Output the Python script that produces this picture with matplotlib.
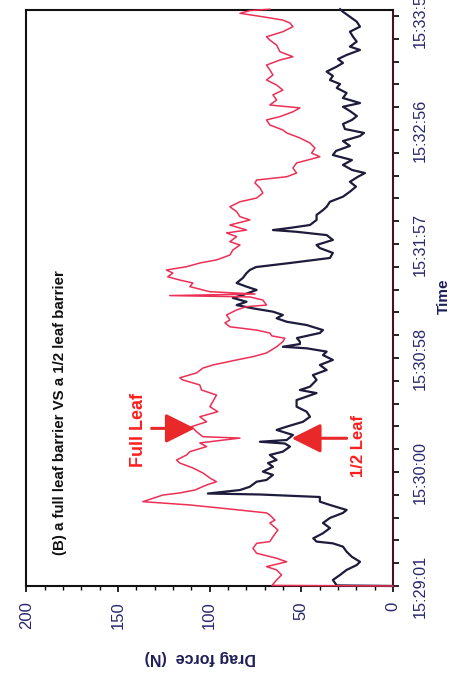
import matplotlib
matplotlib.use("Agg")
import matplotlib.pyplot as plt
from matplotlib.ticker import FixedLocator, MultipleLocator
import numpy as np

plt.rcParams['font.family'] = ['Liberation Sans', 'DejaVu Sans']

# Elapsed time (s after 15:29:01) and drag force (N) for the full-leaf barrier
t_full = [0.0, 0.3, 3.1, 5.7, 8.3, 10.0, 12.5, 14.3, 16.9, 19.4, 22.0, 22.9, 25.4, 28.9,
          32.5, 34.0, 36.6, 37.7, 39.7, 41.8, 43.5, 46.9, 48.0, 49.5, 52.1, 53.8,
          55.7, 58.3, 60.9, 63.4, 65.0, 67.6, 69.3, 71.9, 73.8, 76.3, 77.0, 79.6,
          82.2, 84.7, 87.3, 89.9, 92.5, 95.1, 98.5, 101.1, 103.7, 106.3, 107.4,
          109.9, 112.4, 114.0, 116.6, 118.3, 120.2, 123.4, 126.0, 127.8, 129.0,
          130.5, 132.0, 133.7, 135.7, 137.2, 139.8, 142.4, 144.1, 144.9, 147.5,
          149.1, 149.8, 150.6, 151.8, 154.4, 156.3, 157.8, 159.5, 161.4, 163.0,
          164.7, 166.6, 168.2, 170.7, 173.3, 175.9, 177.6, 180.2, 182.1, 183.6,
          186.2, 188.8, 190.5, 193.1, 195.6, 198.2, 200.1, 202.7, 205.3, 207.9,
          209.4, 211.1, 213.0, 215.6, 218.2, 221.4, 223.3, 225.9, 228.5, 231.1,
          233.7, 235.2, 237.8, 240.4, 242.1, 244.6, 246.6, 248.1, 250.7, 253.3,
          255.8, 258.4, 261.0, 263.6, 266.2, 268.7, 271.3, 273.0, 275.6, 279.0,
          281.6, 283.3, 285.9, 288.5, 290.4, 291.9, 293.6, 295.4, 296.8, 297.5]
f_full = [0.0, 66.0, 63.5, 60.8, 63.5, 69.0, 58.0, 63.5, 74.4, 76.4, 74.4, 67.2, 65.5, 62.8,
          67.2, 64.4, 67.2, 69.0, 89.0, 110.8, 136.5, 125.6, 116.3, 108.1, 101.7, 96.3,
          99.9, 103.7, 109.2, 116.3, 118.1, 112.6, 110.8, 101.7, 105.4, 83.5, 103.7, 107.2,
          109.9, 101.7, 105.4, 95.6, 99.9, 98.3, 96.3, 104.5, 105.4, 114.7, 116.3,
          107.2, 103.7, 98.3, 85.3, 76.4, 69.0, 63.5, 60.1, 59.0, 66.1,
          67.2, 74.4, 89.0, 91.7, 89.0, 90.8, 85.3, 79.9, 69.0, 71.0,
          78.1, 121.8, 75.3, 99.9, 110.8, 109.2, 116.3, 122.9, 120.1, 123.6,
          112.6, 105.4, 96.3, 89.0, 87.4, 83.5, 89.0, 85.3, 90.8, 79.9,
          89.0, 78.1, 83.5, 85.3, 89.0, 83.5, 74.4, 71.0, 72.6, 75.3,
          74.4, 58.0, 52.6, 54.6, 52.6, 39.9, 44.4, 42.6, 45.3, 50.8,
          58.0, 60.1, 67.2, 69.0, 61.7, 54.6, 50.8, 67.2, 63.5, 65.5,
          60.1, 63.5, 69.0, 65.5, 67.2, 69.0, 61.7, 54.6, 61.7, 63.5,
          67.2, 69.0, 60.1, 54.6, 56.2, 60.1, 71.0, 83.5, 78.1, 67.2]

# Elapsed time (s after 15:29:01) and drag force (N) for the half-leaf barrier
t_half = [0.0, 0.3, 3.1, 5.7, 8.3, 10.8, 12.5, 15.1, 17.7, 20.3, 22.0, 22.9, 24.6, 27.2,
          29.9, 32.5, 35.1, 37.7, 39.2, 41.8, 43.5, 45.9, 47.2, 47.7, 49.5, 51.2,
          53.8, 54.7, 57.3, 59.0, 61.5, 63.4, 65.0, 67.6, 69.3, 71.9, 73.5, 74.4,
          75.3, 77.9, 80.5, 82.2, 84.7, 87.3, 89.9, 92.5, 95.9, 99.5, 101.1, 102.8,
          106.3, 108.8, 111.4, 114.0, 116.6, 119.1, 120.9, 122.6, 123.4, 124.8,
          126.0, 127.9, 130.5, 132.0, 134.6, 136.3, 138.1, 139.8, 141.5, 143.2,
          144.9, 146.6, 148.6, 150.1, 152.7, 154.4, 156.3, 158.9, 161.4, 163.0,
          164.5, 166.6, 169.2, 171.8, 174.3, 175.9, 178.5, 181.0, 182.7, 183.6,
          184.7, 186.2, 188.8, 191.4, 193.9, 195.6, 198.2, 200.8, 203.4, 206.0,
          208.5, 211.1, 213.0, 214.6, 217.2, 219.7, 222.3, 224.4, 227.0, 229.5,
          232.1, 233.7, 235.7, 238.3, 240.4, 242.4, 245.0, 247.2, 249.1, 251.7,
          254.3, 256.9, 258.9, 261.0, 263.1, 265.3, 267.9, 269.8, 271.8, 273.9,
          276.5, 278.2, 280.8, 283.3, 285.9, 288.5, 291.1, 293.6, 296.2, 297.5]
f_half = [0.0, 30.7, 32.8, 28.9, 25.3, 19.8, 18.0, 22.5, 25.3, 27.3, 32.8, 41.7, 43.5, 38.2,
          34.4, 38.2, 34.4, 27.3, 25.3, 34.4, 39.9, 39.9, 72.6, 101.0, 83.5, 78.1,
          74.4, 69.0, 65.5, 71.0, 65.5, 68.2, 63.5, 67.2, 60.1, 56.2, 59.0, 72.6,
          58.0, 54.6, 63.5, 58.0, 49.1, 45.3, 47.1, 52.6, 52.6, 41.7, 50.8, 45.3,
          41.7, 43.7, 36.2, 39.9, 32.8, 38.2, 36.2, 47.1, 60.1, 50.8,
          50.8, 52.4, 39.9, 38.2, 47.1, 58.0, 63.5, 60.1, 65.5, 76.4,
          85.3, 79.9, 87.4, 81.9, 74.4, 79.9, 85.3, 81.9, 79.9, 78.1,
          74.8, 56.2, 34.4, 32.8, 39.9, 41.7, 32.8, 36.2, 52.6, 65.5,
          56.2, 45.3, 41.7, 41.7, 38.2, 36.2, 34.4, 27.3, 23.5, 20.2,
          23.5, 19.1, 15.3, 22.4, 27.3, 22.4, 32.8, 31.1, 23.5, 27.3,
          18.0, 15.8, 26.2, 27.3, 22.4, 19.7, 23.5, 27.3, 18.0, 27.3,
          25.3, 30.7, 28.9, 34.4, 32.8, 36.2, 30.7, 27.3, 30.0, 25.3,
          18.0, 23.5, 19.8, 21.8, 23.5, 18.0, 19.8, 23.5, 27.3, 28.9]

time_ticks = [0.0, 58.8, 117.6, 176.4, 235.2, 294.0]
time_labels = ["15:29:01", "15:30:00", "15:30:58", "15:31:57", "15:32:56", "15:33:55"]
force_ticks = [0, 50, 100, 150, 200]

RED = '#ec2f55'
NAVY_LINE = '#1d1c3c'
NAVY_TEXT = '#28286e'
ARROW_RED = '#e9282a'

W, H = 466, 677
fig = plt.figure(figsize=(W / 100, H / 100), dpi=100)
ax = fig.add_axes([25.5 / W, 1 - 586 / H, (393 - 25.5) / W, (586 - 10) / H])

ax.plot(f_half, t_half, color=NAVY_LINE, lw=1.6, solid_joinstyle='round', zorder=3,
        clip_on=False)
ax.plot(f_full, t_full, color=RED, lw=1.1, solid_joinstyle='round', zorder=4,
        clip_on=False)

ax.set_xlim(200.5, 0)
ax.set_ylim(0, 297.1)

# force axis along the bottom
ax.xaxis.set_major_locator(FixedLocator(force_ticks))
ax.xaxis.set_minor_locator(MultipleLocator(10))
ax.tick_params(axis='x', which='major', direction='out', length=4.5, width=1.2,
               pad=6.5, labelsize=12, labelcolor=NAVY_TEXT, labelrotation=90)
ax.tick_params(axis='x', which='minor', direction='out', length=3, width=1.0)

# time axis along the right side
ax.yaxis.tick_right()
ax.yaxis.set_major_locator(FixedLocator(time_ticks))
ax.yaxis.set_minor_locator(FixedLocator(np.arange(0, 297, 11.76)))
ax.set_yticklabels(time_labels)
ax.tick_params(axis='y', which='both', direction='out', length=4.5, width=1.2)
ax.tick_params(axis='y', which='major', pad=10, labelsize=11.7,
               labelcolor=NAVY_TEXT, labelrotation=90)
for lab in ax.get_yticklabels():
    lab.set_va('center')
    lab.set_ha('left')

for side in ['left', 'top', 'bottom']:
    ax.spines[side].set_linewidth(1.5)
    ax.spines[side].set_color('#111111')
ax.spines['right'].set_linewidth(1.5)
ax.spines['right'].set_color('#4d1020')

# annotations
ax.text(181.8, 89.7, "(B) a full leaf barrier VS a 1/2 leaf barrier", rotation=90,
        color='#111111', fontsize=10.8, fontweight='bold', ha='center', va='center')
ax.text(138.7, 80.5, "Full Leaf", rotation=90, color='#ff1e1e', fontsize=13,
        fontweight='bold', ha='center', va='center')
ax.text(18.6, 72.2, "1/2 Leaf", rotation=90, color='#ff1e1e', fontsize=12,
        fontweight='bold', ha='center', va='center')
arrow_kw = dict(arrowstyle="-|>,head_length=0.9,head_width=0.45", color=ARROW_RED,
                lw=2.2, mutation_scale=20, shrinkA=0, shrinkB=0)
ax.annotate("", xy=(108.1, 81.3), xytext=(131.7, 81.3), arrowprops=arrow_kw, zorder=6)
ax.annotate("", xy=(55.3, 76.2), xytext=(25.3, 76.2), arrowprops=arrow_kw, zorder=6)

fig.text(200 / W, 1 - 658 / H, "Drag force  (N)", rotation=180, color='#1e1e5a',
         fontsize=11.5, fontweight='bold', ha='center', va='center')
fig.text(444 / W, 1 - 296 / H, "Time", rotation=90, color='#1e1e5a',
         fontsize=11, fontweight='bold', ha='center', va='center')

fig.savefig('out.png', dpi=100)
